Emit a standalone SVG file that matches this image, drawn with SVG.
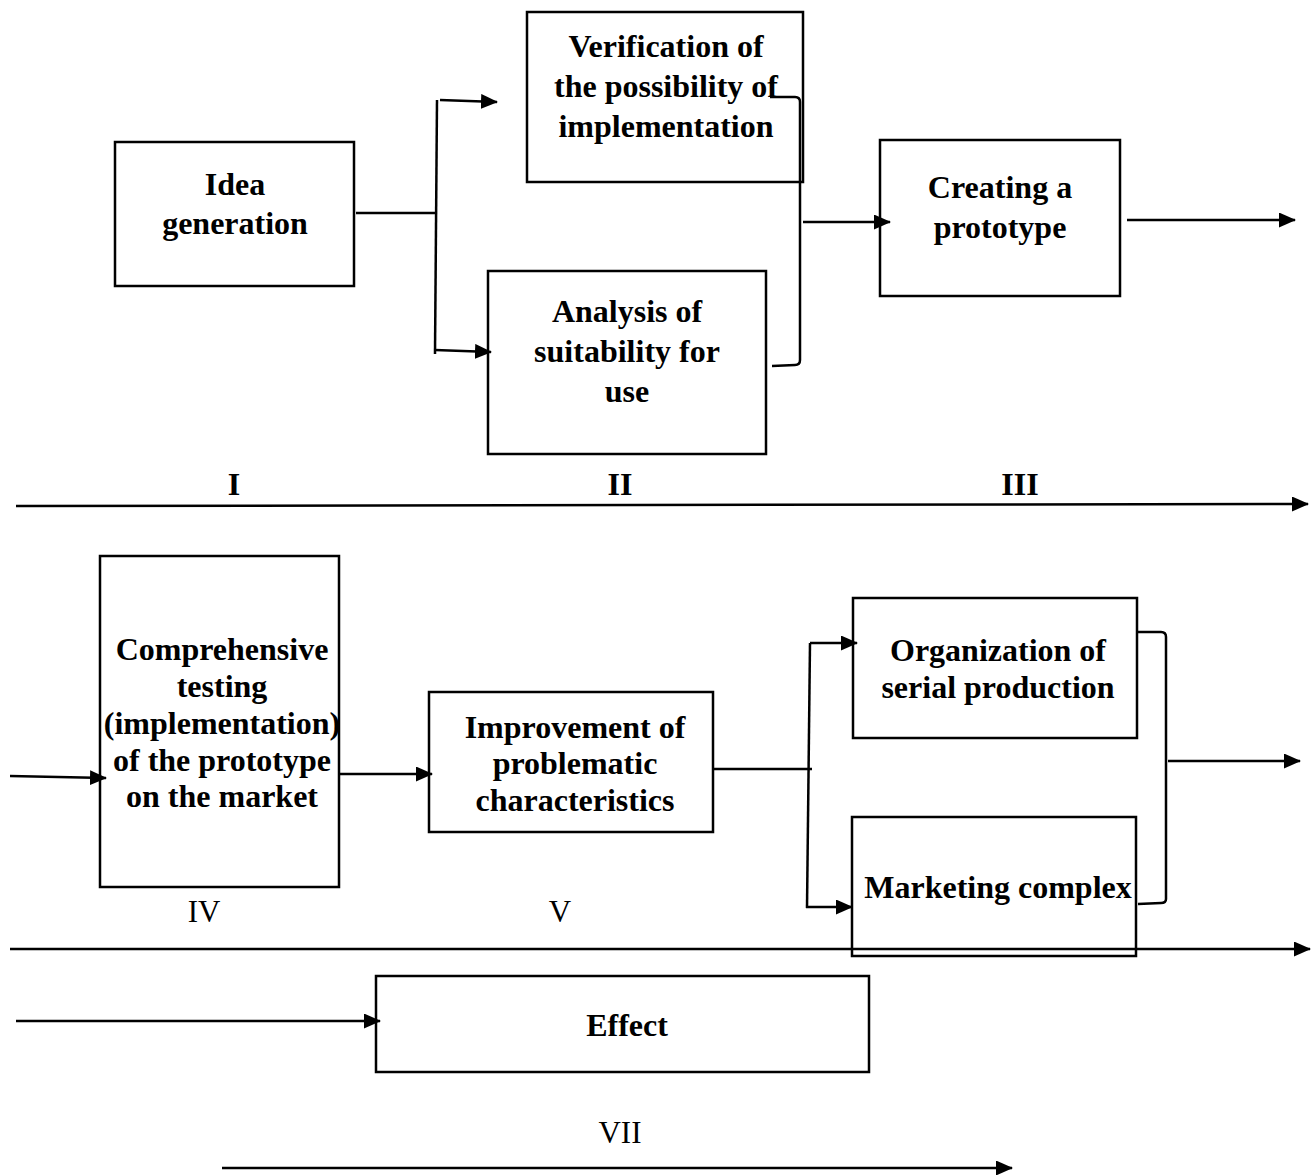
<svg xmlns="http://www.w3.org/2000/svg" width="1312" height="1175" viewBox="0 0 1312 1175">
<style>
  .box { fill: #fff; stroke: #000; stroke-width: 2.5; }
  .ln { fill: none; stroke: #000; stroke-width: 2.5; }
  .t { font-family: "Liberation Serif", "Times New Roman", serif; font-size: 32px; font-weight: bold; text-anchor: middle; fill: #000; }
  .r { font-family: "Liberation Serif", "Times New Roman", serif; font-size: 31px; text-anchor: middle; fill: #000; }
</style>
<defs>
  <marker id="ah" markerUnits="userSpaceOnUse" markerWidth="17" markerHeight="15" refX="16" refY="7.5" orient="auto">
    <path d="M0,0 L17,7.5 L0,15 Z" fill="#000"/>
  </marker>
</defs>
<rect width="1312" height="1175" fill="#fff"/>

<g id="idea-generation">
  <rect class="box" x="115" y="142" width="239" height="144"/>
  <text class="t" x="235" y="195">Idea</text>
  <text class="t" x="235" y="234">generation</text>
</g>
<g id="verification">
  <rect class="box" x="527" y="12" width="276" height="170"/>
  <text class="t" x="666" y="57">Verification of</text>
  <text class="t" x="666" y="97">the possibility of</text>
  <text class="t" x="666" y="137">implementation</text>
</g>
<g id="analysis">
  <rect class="box" x="488" y="271" width="278" height="183"/>
  <text class="t" x="627" y="322">Analysis of</text>
  <text class="t" x="627" y="362">suitability for</text>
  <text class="t" x="627" y="402">use</text>
</g>
<g id="prototype">
  <rect class="box" x="880" y="140" width="240" height="156"/>
  <text class="t" x="1000" y="198">Creating a</text>
  <text class="t" x="1000" y="238">prototype</text>
</g>
<g id="testing">
  <rect class="box" x="100" y="556" width="239" height="331"/>
  <text class="t" x="222" y="660">Comprehensive</text>
  <text class="t" x="222" y="697">testing</text>
  <text class="t" x="222" y="734">(implementation)</text>
  <text class="t" x="222" y="771">of the prototype</text>
  <text class="t" x="222" y="807">on the market</text>
</g>
<g id="improvement">
  <rect class="box" x="429" y="692" width="284" height="140"/>
  <text class="t" x="575" y="738">Improvement of</text>
  <text class="t" x="575" y="774">problematic</text>
  <text class="t" x="575" y="811">characteristics</text>
</g>
<g id="serial-production">
  <rect class="box" x="853" y="598" width="284" height="140"/>
  <text class="t" x="998" y="661">Organization of</text>
  <text class="t" x="998" y="698">serial production</text>
</g>
<g id="marketing">
  <rect class="box" x="852" y="817" width="284" height="139"/>
  <text class="t" x="998" y="898">Marketing complex</text>
</g>
<g id="effect">
  <rect class="box" x="376" y="976" width="493" height="96"/>
  <text class="t" x="627" y="1036">Effect</text>
</g>

<g id="stage-labels">
  <text class="t" x="234" y="495">I</text>
  <text class="t" x="620" y="495">II</text>
  <text class="t" x="1020" y="495">III</text>
  <text class="r" x="204" y="922">IV</text>
  <text class="r" x="560" y="922">V</text>
  <text class="r" x="620" y="1143">VII</text>
</g>

<g id="connectors">
  <!-- upper stage: split from idea generation -->
  <path class="ln" d="M356,213 H435"/>
  <path class="ln" d="M437,100 L435,354"/>
  <path class="ln" d="M440,100 L497,102" marker-end="url(#ah)"/>
  <path class="ln" d="M435,350 L491,352" marker-end="url(#ah)"/>
  <!-- merge into prototype -->
  <path class="ln" d="M770,97 L795,97 Q800,97 800,102 V360 Q800,365 795,365 L772,366"/>
  <path class="ln" d="M803,222 H890" marker-end="url(#ah)"/>
  <path class="ln" d="M1127,220 H1295" marker-end="url(#ah)"/>
  <!-- first timeline -->
  <path class="ln" d="M16,506 L1308,504" marker-end="url(#ah)"/>

  <!-- middle stage -->
  <path class="ln" d="M10,776 L106,778" marker-end="url(#ah)"/>
  <path class="ln" d="M339,774 H432" marker-end="url(#ah)"/>
  <path class="ln" d="M713,769 H812"/>
  <path class="ln" d="M810,643 L807,908"/>
  <path class="ln" d="M810,643 H857" marker-end="url(#ah)"/>
  <path class="ln" d="M806,907 H852" marker-end="url(#ah)"/>
  <path class="ln" d="M1138,632 L1161,632 Q1166,632 1166,637 V899 Q1166,903 1161,903 L1138,904"/>
  <path class="ln" d="M1168,761 H1300" marker-end="url(#ah)"/>
  <!-- second timeline -->
  <path class="ln" d="M10,949 H1310" marker-end="url(#ah)"/>

  <!-- effect stage -->
  <path class="ln" d="M16,1021 H380" marker-end="url(#ah)"/>
  <path class="ln" d="M222,1168 H1012" marker-end="url(#ah)"/>
</g>
</svg>
